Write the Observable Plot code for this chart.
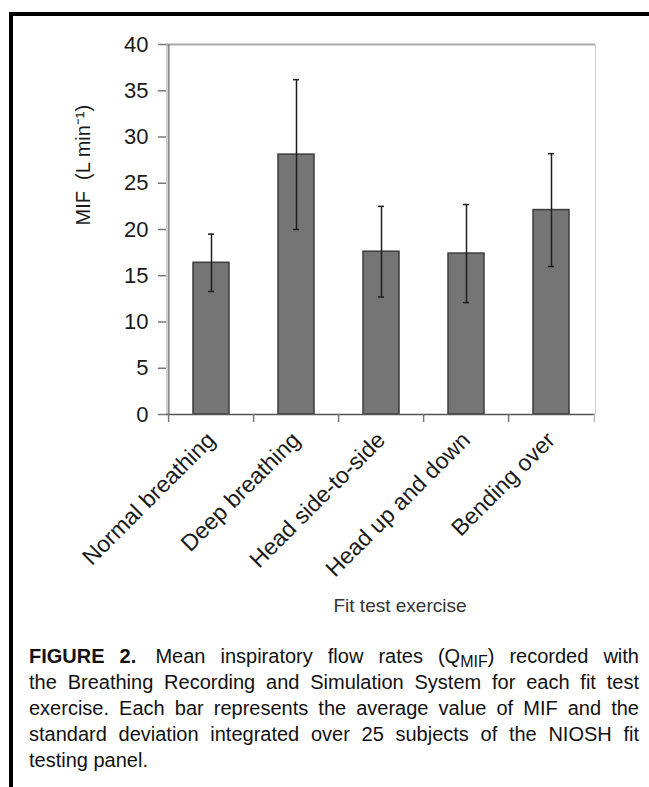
<!DOCTYPE html>
<html>
<head>
<meta charset="utf-8">
<script src="https://cdn.jsdelivr.net/npm/d3@7"></script>
<script src="https://cdn.jsdelivr.net/npm/@observablehq/plot@0.6"></script>
<style>
  html, body { margin: 0; padding: 0; background: #fff; }
  body { width: 649px; height: 787px; position: relative; overflow: hidden; font-family: "Liberation Sans", Arial, sans-serif; }
  #border { position: absolute; left: 9px; top: 12px; width: 700px; height: 800px; border-top: 4px solid #000; border-left: 4px solid #000; z-index: 5; pointer-events: none; }
  #chart { position: absolute; left: 0; top: 0; z-index: 1; }
  #caption { position: absolute; left: 29px; top: 643px; width: 610px; font-size: 20px; line-height: 26px; color: #111; z-index: 1; }
  #caption div { text-align: justify; text-align-last: justify; white-space: nowrap; }
  #caption div.last { text-align-last: left; }
  #caption b { margin-right: 4px; }
  sub { font-size: 0.8em; vertical-align: -0.25em; line-height: 0; }
</style>
</head>
<body>
<div id="chart"></div>
<div id="caption">
  <div><b>FIGURE 2.</b> Mean inspiratory flow rates (Q<sub>MIF</sub>) recorded with</div>
  <div>the Breathing Recording and Simulation System for each fit test</div>
  <div>exercise. Each bar represents the average value of MIF and the</div>
  <div>standard deviation integrated over 25 subjects of the NIOSH fit</div>
  <div class="last">testing panel.</div>
</div>
<div id="border"></div>
<script>
const exercises = ["Normal breathing", "Deep breathing", "Head side-to-side", "Head up and down", "Bending over"];
const meanMIF = [16.4, 28.1, 17.6, 17.4, 22.1];
const sdMIF = [3.1, 8.1, 4.9, 5.3, 6.1];
const yTicks = [0, 5, 10, 15, 20, 25, 30, 35, 40];
const yLabel = "MIF  (L min\u207B\u00B9)";
const xLabel = "Fit test exercise";

const data = exercises.map((e, i) => ({exercise: e, mean: meanMIF[i], sd: sdMIF[i]}));

const W = 649, H = 625;
const mL = 166, mR = 54, mT = 44, mB = 211;
const step = (W - mL - mR) / exercises.length;

const chart = Plot.plot({
  width: W,
  height: H,
  marginLeft: mL,
  marginRight: mR,
  marginTop: mT,
  marginBottom: mB,
  style: {fontFamily: "'Liberation Sans', Arial, sans-serif", background: "transparent", color: "#1a1a1a"},
  x: {domain: exercises, paddingInner: 0.58, paddingOuter: 0.29, align: 0.5, axis: null},
  y: {domain: [0, 40], axis: null},
  marks: [
    Plot.frame({stroke: "#cfcfcf", strokeWidth: 1}),
    Plot.ruleY([40], {stroke: "#a9a9a9", strokeWidth: 2}),
    Plot.barY(data, {x: "exercise", y: "mean", fill: "#757575", stroke: "#3c3c3c", strokeWidth: 1.5}),
    Plot.ruleX(data, {x: "exercise", y1: d => d.mean - d.sd, y2: d => d.mean + d.sd, stroke: "#1e1e1e", strokeWidth: 1.5}),
    Plot.tickY(data, {x: "exercise", y: d => d.mean + d.sd, stroke: "#1e1e1e", strokeWidth: 1.5, inset: 15}),
    Plot.tickY(data, {x: "exercise", y: d => d.mean - d.sd, stroke: "#1e1e1e", strokeWidth: 1.5, inset: 15}),
    Plot.ruleX([exercises[0]], {dx: -step / 2, stroke: "#8a8a8a", strokeWidth: 2}),
    Plot.ruleY([0], {stroke: "#555", strokeWidth: 1.5}),
    Plot.axisY({ticks: yTicks, tickSize: 8, tickPadding: 10, fontSize: 22, stroke: "#777", strokeWidth: 1.5, label: null, fill: "#1a1a1a"}),
    Plot.axisX({ticks: exercises, tickSize: 8, tickFormat: () => "", dx: -step / 2, stroke: "#777", strokeWidth: 1.5, label: null}),
    Plot.axisX({ticks: [exercises[exercises.length - 1]], tickSize: 8, tickFormat: () => "", dx: step / 2, stroke: "#bbb", strokeWidth: 1.5, label: null}),
    Plot.text(exercises, {x: d => d, frameAnchor: "bottom", rotate: -45, textAnchor: "end", dx: 5, dy: 27, fontSize: 23, fill: "#1a1a1a"}),
    Plot.text([yLabel], {text: d => d, frameAnchor: "left", rotate: -90, dx: -83, dy: -4, fontSize: 20, fill: "#1a1a1a"}),
    Plot.text([xLabel], {text: d => d, frameAnchor: "bottom", dx: 19, dy: 197, fontSize: 19, fill: "#333"})
  ]
});
document.getElementById("chart").appendChild(chart);
</script>
</body>
</html>
